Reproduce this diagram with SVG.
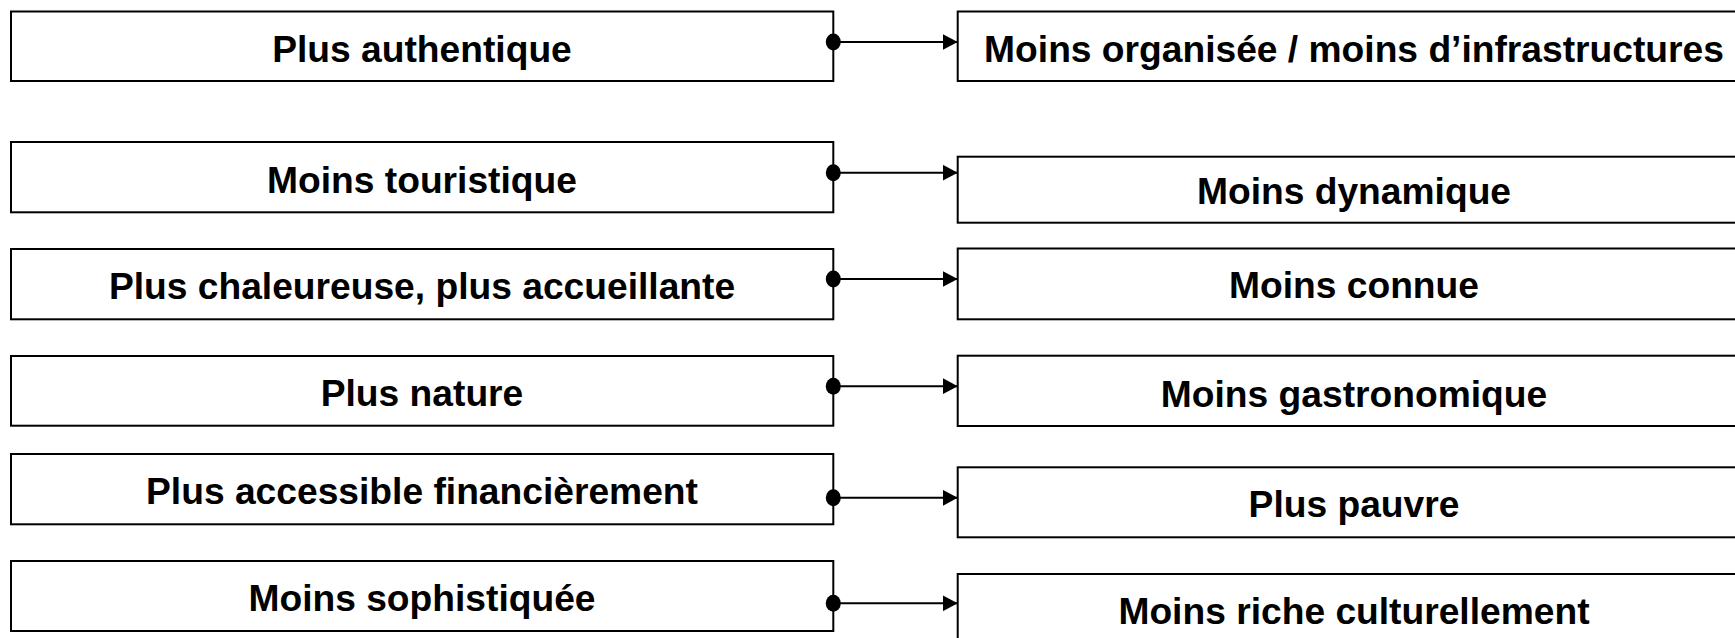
<svg xmlns="http://www.w3.org/2000/svg" width="1735" height="638" viewBox="0 0 1735 638">
<style>
.box{fill:#fff;stroke:#000;stroke-width:2}
.t{font-family:"Liberation Sans",Arial,sans-serif;font-weight:bold;font-size:37.2px;fill:#000;text-anchor:middle}
.c{stroke:#000;stroke-width:2;fill:none;marker-end:url(#arr)}
.dot{fill:#000}
</style>
<defs>
<marker id="arr" markerWidth="16" markerHeight="16" refX="15" refY="8" orient="auto" markerUnits="userSpaceOnUse">
<path d="M0,0 L15,8 L0,16 Z" fill="#000"/>
</marker>
</defs>
<rect width="1735" height="638" fill="#fff"/>
<g id="l1"><rect class="box" x="11" y="11.5" width="822.3" height="69.5"/><text class="t" x="422" y="62.3">Plus authentique</text></g>
<g id="l2"><rect class="box" x="11" y="142" width="822.3" height="70.3"/><text class="t" x="422" y="192.7">Moins touristique</text></g>
<g id="l3"><rect class="box" x="11" y="249" width="822.3" height="70.3"/><text class="t" x="422" y="299.3">Plus chaleureuse, plus accueillante</text></g>
<g id="l4"><rect class="box" x="11" y="356" width="822.3" height="69.7"/><text class="t" x="422" y="405.7">Plus nature</text></g>
<g id="l5"><rect class="box" x="11" y="454" width="822.3" height="70.3"/><text class="t" x="422" y="504">Plus accessible financièrement</text></g>
<g id="l6"><rect class="box" x="11" y="561" width="822.3" height="70"/><text class="t" x="422" y="610.7">Moins sophistiquée</text></g>
<g id="r1"><rect class="box" x="957.7" y="11.5" width="792" height="69.5"/><text class="t" x="1354" y="62.3">Moins organisée / moins d’infrastructures</text></g>
<g id="r2"><rect class="box" x="957.7" y="156.7" width="792" height="66"/><text class="t" x="1354" y="203.5">Moins dynamique</text></g>
<g id="r3"><rect class="box" x="957.7" y="248.5" width="792" height="70.8"/><text class="t" x="1354" y="298.3">Moins connue</text></g>
<g id="r4"><rect class="box" x="957.7" y="355.7" width="792" height="70.3"/><text class="t" x="1354" y="406.7">Moins gastronomique</text></g>
<g id="r5"><rect class="box" x="957.7" y="467.3" width="792" height="70"/><text class="t" x="1354" y="517.3">Plus pauvre</text></g>
<g id="r6"><rect class="box" x="957.7" y="574" width="792" height="70"/><text class="t" x="1354" y="624">Moins riche culturellement</text></g>
<g id="connectors">
<path class="c" d="M833.3,42 H957.7"/><ellipse class="dot" cx="833.3" cy="42" rx="7.5" ry="8.5"/>
<path class="c" d="M833.3,172.7 H957.7"/><ellipse class="dot" cx="833.3" cy="172.7" rx="7.5" ry="8.5"/>
<path class="c" d="M833.3,279 H957.7"/><ellipse class="dot" cx="833.3" cy="279" rx="7.5" ry="8.5"/>
<path class="c" d="M833.3,386.2 H957.7"/><ellipse class="dot" cx="833.3" cy="386.2" rx="7.5" ry="8.5"/>
<path class="c" d="M833.3,497.8 H957.7"/><ellipse class="dot" cx="833.3" cy="497.8" rx="7.5" ry="8.5"/>
<path class="c" d="M833.3,603.3 H957.7"/><ellipse class="dot" cx="833.3" cy="603.3" rx="7.5" ry="8.5"/>
</g>
</svg>
